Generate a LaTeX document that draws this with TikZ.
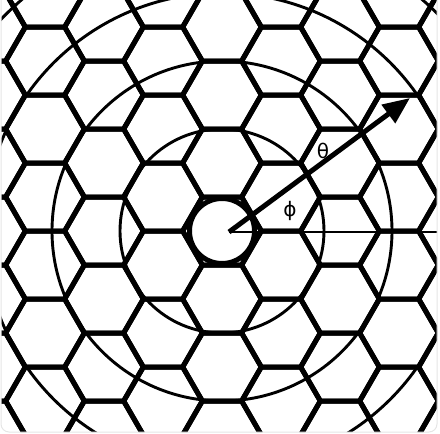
\documentclass[tikz,border=0pt]{standalone}
\usepackage{fontspec}
\newfontfamily\greekfont{DejaVu Sans}
\usetikzlibrary{arrows.meta}

\begin{document}
\begin{tikzpicture}[x=1pt, y=-1pt,
    cell/.style={line width=5pt},
    ring/.style={line width=2.9pt},
    lbl/.style={font=\greekfont\fontsize{20}{20}\selectfont, inner sep=0pt},
  ]
  \useasboundingbox (0,0) rectangle (440,434);
  \coordinate (hub) at (222,231);
  \coordinate (origin) at (229,232);
  \coordinate (tip) at (410,98);
  \coordinate (edge) at (440,232);

  \begin{scope}
    \clip[rounded corners=8pt] (1,-10) rectangle (437,432);
    % honeycomb of flat-top cells, side 39.26
    \foreach \k in {-4,...,4}{
      \foreach \j in {-4,...,4}{
        \pgfmathsetmacro{\cx}{222+59*\k}
        \pgfmathsetmacro{\cy}{231+68*\j+34*mod(abs(\k),2)}
        \draw[cell] (\cx+39.26,\cy) -- ++(-19.63,34) -- ++(-39.26,0)
          -- ++(-19.63,-34) -- ++(19.63,-34) -- ++(39.26,0) -- cycle;
      }
    }

    % rings round the centre cell
    \foreach \r in {102,170,238,306}
      \draw[ring] (hub) circle[radius=\r pt];
    \draw[cell, fill=white] (hub) circle[radius=32.5pt];

    % direction and reference axis
    \draw[ring] (origin) -- (edge);
    \draw[line width=5pt, -{Triangle[length=27pt,width=22pt]}] (origin) -- (tip);
  \end{scope}

  \node[lbl] (theta) at (323,151) {θ};
  \node[lbl] (phi) at (290,211) {ϕ};

  \draw[gray!20, line width=1pt, rounded corners=8pt] (1,-10) rectangle (437,432);
\end{tikzpicture}
\end{document}
